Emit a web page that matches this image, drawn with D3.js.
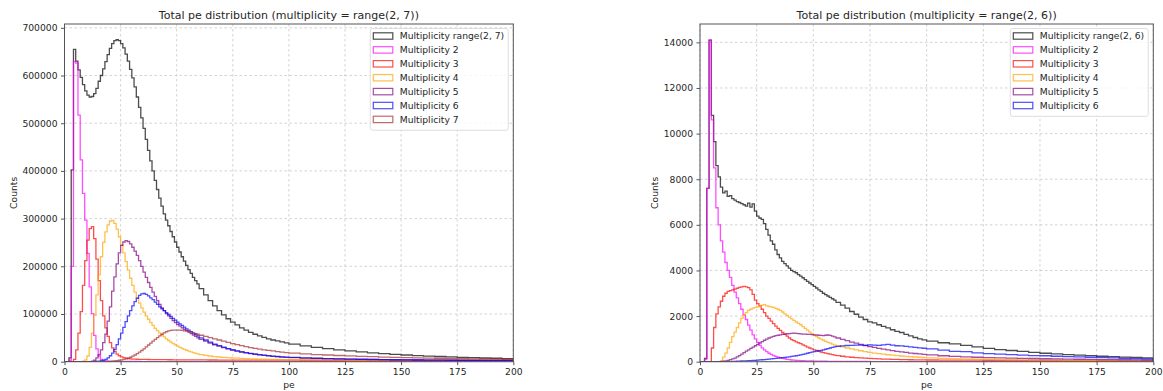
<!DOCTYPE html>
<html>
<head>
<meta charset="utf-8">
<script src="https://cdn.jsdelivr.net/npm/d3@7"></script>
<style>
  body { margin: 0; background: #fff; }
  text { font-family: "DejaVu Sans", sans-serif; fill: #262626; }
</style>
</head>
<body>
<svg id="chart" width="1163" height="391"></svg>
<script>
// bin edges (pe): width 1 up to 60, width 2 up to 100, width 5 up to 200
const binEdges = d3.range(0, 60, 1).concat(d3.range(60, 100, 2), d3.range(100, 201, 5));

const xTicks = [0, 25, 50, 75, 100, 125, 150, 175, 200];
const leftYTicks = [0, 100000, 200000, 300000, 400000, 500000, 600000, 700000];
const rightYTicks = [0, 2000, 4000, 6000, 8000, 10000, 12000, 14000];

const seriesColors = ["black", "magenta", "red", "orange", "purple", "blue", "brown"];
const leftLabels = ["Multiplicity range(2, 7)", "Multiplicity 2", "Multiplicity 3", "Multiplicity 4",
  "Multiplicity 5", "Multiplicity 6", "Multiplicity 7"];
const rightLabels = ["Multiplicity range(2, 6)", "Multiplicity 2", "Multiplicity 3", "Multiplicity 4",
  "Multiplicity 5", "Multiplicity 6"];

// ---- left panel counts, multiplicity = range(2, 7)
const leftTotal = [
  0, 0, 8000, 402000, 655000, 630000, 612000, 596000, 581000, 568000,
  559000, 555000, 556000, 562000, 573000, 588000, 600000, 614000, 629000, 644000,
  657000, 667000, 673000, 675000, 673000, 667000, 658000, 645000, 630000, 613000,
  595000, 576000, 555000, 533000, 511000, 489000, 466000, 443000, 421000, 400000,
  380000, 361000, 343000, 326000, 310000, 297000, 285000, 273000, 262000, 251000,
  240000, 230000, 220000, 211000, 202000, 193000, 185000, 177000, 170000, 163000,
  153000, 140000, 128000, 117000, 107000, 98000, 90000, 83000, 77000, 71000,
  66000, 61500, 57500, 54000, 51000, 48000, 45500, 43500, 41500, 39500,
  37000, 33000, 30000, 27500, 25000, 22500, 20500, 18500, 16800, 15200,
  14000, 12800, 11800, 10900, 10000, 9200, 8500, 7800, 7200, 6600];
const leftMult2 = [
  0, 0, 3000, 200000, 629000, 626000, 517000, 423000, 353000, 297000,
  227000, 157000, 101000, 55000, 27000, 12000, 5000, 2500, 1500, 1000,
  800, 700, 650, 600, 550, 500, 480, 460, 440, 420,
  400, 390, 380, 370, 360, 350, 340, 330, 320, 310,
  300, 290, 280, 270, 260, 250, 245, 240, 235, 230,
  225, 220, 215, 210, 205, 200, 195, 190, 185, 180,
  170, 160, 150, 140, 130, 120, 110, 100, 90, 80,
  75, 70, 65, 60, 55, 50, 45, 40, 35, 30,
  30, 25, 25, 20, 20, 15, 15, 10, 10, 10,
  10, 5, 5, 5, 5, 5, 0, 0, 0, 0];
const leftMult3 = [
  0, 0, 0, 0, 5000, 25000, 60000, 105000, 160000, 212000,
  255000, 279000, 283000, 258000, 215000, 170000, 128000, 96000, 71000, 53000,
  40000, 29000, 21500, 16000, 12500, 10000, 8500, 7500, 6700, 6000,
  5500, 5300, 5100, 5000, 4900, 4800, 4700, 4600, 4500, 4450,
  4400, 4350, 4300, 4250, 4200, 4150, 4100, 4050, 4000, 3950,
  3900, 3880, 3860, 3840, 3820, 3800, 3780, 3760, 3740, 3720,
  3700, 3650, 3600, 3550, 3500, 3450, 3400, 3380, 3360, 3340,
  3320, 3300, 3280, 3260, 3240, 3220, 3200, 3180, 3160, 3140,
  3100, 3050, 3000, 2950, 2900, 2850, 2800, 2750, 2700, 2650,
  2600, 2580, 2560, 2540, 2520, 2500, 2480, 2460, 2440, 2420];
const leftMult4 = [
  0, 0, 0, 0, 0, 0, 0, 0, 1000, 4000,
  12000, 30000, 60000, 97000, 140000, 182000, 220000, 250000, 272000, 287000,
  295000, 296000, 290000, 278000, 262000, 245000, 228000, 210000, 192000, 175000,
  160000, 146000, 134000, 123000, 113000, 104000, 96000, 89000, 82000, 76000,
  70000, 65000, 60000, 56000, 52000, 48000, 44500, 41000, 38000, 35000,
  32500, 30000, 28000, 26000, 24000, 22000, 20500, 19000, 17500, 16300,
  14800, 13200, 11900, 10800, 9900, 9100, 8400, 7800, 7300, 6800,
  6400, 6000, 5700, 5400, 5200, 5000, 4800, 4600, 4500, 4400,
  4200, 4000, 3900, 3800, 3700, 3600, 3500, 3400, 3300, 3200,
  3100, 3000, 2950, 2900, 2850, 2800, 2750, 2700, 2650, 2600];
const leftMult5 = [
  0, 0, 0, 0, 0, 0, 0, 0, 0, 0,
  0, 0, 1000, 3000, 8000, 15000, 25000, 40000, 58000, 85000,
  115000, 148000, 178000, 205000, 228000, 244000, 251000, 254000, 252000, 247000,
  240000, 232000, 223000, 212000, 200000, 188000, 177000, 166000, 156000, 146000,
  137000, 128000, 120000, 113000, 107000, 101000, 96000, 91000, 86000, 82000,
  78000, 74500, 71000, 68000, 65000, 62000, 59000, 56000, 53000, 50000,
  47000, 43000, 39000, 35500, 32500, 29500, 27000, 24500, 22300, 20300,
  18600, 17000, 15600, 14300, 13200, 12200, 11300, 10500, 9800, 9200,
  8700, 7700, 6900, 6300, 5800, 5300, 4900, 4600, 4300, 4000,
  3800, 3600, 3400, 3200, 3100, 3000, 2900, 2800, 2700, 2600];
const leftMult6 = [
  0, 0, 0, 0, 0, 0, 0, 0, 0, 0,
  0, 0, 0, 0, 500, 1000, 2000, 3500, 5000, 8000,
  12500, 18000, 26000, 36000, 48000, 60000, 72000, 84000, 96000, 107000,
  117000, 126000, 133000, 139000, 142000, 143000, 141000, 138000, 134000, 130000,
  125000, 120000, 115000, 111000, 107000, 103000, 99000, 95000, 91000, 87000,
  83000, 79500, 76000, 72500, 69000, 66000, 63000, 60000, 57000, 54000,
  50000, 45500, 41000, 37000, 33500, 30500, 27500, 25000, 22800, 20800,
  19000, 17500, 16000, 14800, 13600, 12600, 11700, 10900, 10200, 9600,
  9000, 8000, 7200, 6500, 6000, 5500, 5100, 4700, 4400, 4100,
  3800, 3600, 3400, 3200, 3000, 2900, 2800, 2700, 2600, 2500];
const leftMult7 = [
  0, 0, 0, 0, 0, 0, 0, 0, 0, 0,
  0, 0, 0, 0, 0, 0, 0, 0, 300, 500,
  800, 1200, 1700, 2300, 3000, 3800, 4800, 6000, 7500, 9300,
  11500, 14000, 17000, 20000, 23500, 27000, 31000, 35000, 39000, 43000,
  47000, 50500, 54000, 57500, 60500, 62800, 64500, 65500, 66000, 66300,
  66300, 66000, 65500, 64800, 64000, 63000, 61800, 60500, 59000, 57500,
  55500, 53000, 50500, 48000, 45500, 43000, 40500, 38000, 35700, 33500,
  31500, 29700, 28000, 26400, 25000, 23700, 22500, 21300, 20200, 19200,
  17800, 16300, 15000, 14000, 13000, 12100, 11300, 10500, 9800, 9200,
  8600, 8100, 7600, 7200, 6800, 6400, 6000, 5700, 5400, 5100];

// ---- right panel counts, multiplicity = range(2, 6)
const rightTotal = [
  0, 0, 150, 7600, 14100, 10800, 9650, 8600, 8100, 7650,
  7400, 7480, 7250, 7280, 7150, 7080, 7020, 6980, 6930, 6880,
  6820, 6950, 6780, 6920, 6600, 6380, 6300, 6240, 6050, 5800,
  5550, 5300, 5150, 4900, 4700, 4550, 4400, 4300, 4200, 4100,
  4000, 3950, 3900, 3820, 3750, 3680, 3600, 3520, 3450, 3380,
  3300, 3230, 3150, 3080, 3000, 2940, 2880, 2820, 2760, 2700,
  2600, 2480, 2350, 2200, 2080, 1950, 1850, 1750, 1700, 1620,
  1550, 1480, 1400, 1330, 1280, 1200, 1130, 1060, 1000, 960,
  900, 830, 780, 720, 650, 580, 530, 490, 450, 410,
  370, 340, 310, 290, 270, 240, 220, 200, 190, 170];
const rightMult2 = [
  0, 0, 100, 7600, 14100, 10600, 8500, 6750, 6000, 5300,
  4800, 4350, 4000, 3700, 3350, 3050, 2800, 2550, 2300, 2050,
  1850, 1600, 1380, 1180, 1000, 850, 720, 610, 520, 440,
  370, 320, 270, 230, 200, 170, 145, 125, 105, 90,
  75, 65, 58, 52, 46, 42, 38, 35, 32, 30,
  28, 26, 24, 22, 20, 19, 18, 17, 16, 15,
  14, 13, 12, 11, 10, 9, 8, 7, 6, 6,
  5, 5, 4, 4, 4, 3, 3, 3, 2, 2,
  2, 2, 2, 1, 1, 1, 1, 1, 1, 1,
  1, 1, 0, 0, 0, 0, 0, 0, 0, 0];
const rightMult3 = [
  0, 0, 0, 0, 0, 600, 1500, 2100, 2400, 2650,
  2870, 3000, 3080, 3120, 3150, 3180, 3220, 3260, 3280, 3300,
  3280, 3250, 3150, 2950, 2700, 2550, 2450, 2300, 2150, 2000,
  1900, 1780, 1670, 1560, 1460, 1370, 1280, 1200, 1120, 1040,
  970, 920, 870, 830, 790, 740, 690, 640, 600, 560,
  520, 490, 455, 425, 400, 375, 350, 330, 310, 290,
  265, 240, 215, 195, 180, 165, 155, 145, 135, 125,
  115, 110, 105, 100, 95, 90, 85, 82, 80, 78,
  75, 72, 70, 68, 66, 64, 62, 60, 58, 56,
  54, 52, 50, 48, 46, 44, 42, 40, 38, 36];
const rightMult4 = [
  0, 0, 0, 0, 0, 0, 0, 0, 0, 50,
  200, 380, 600, 850, 1100, 1300, 1500, 1700, 1900, 2050,
  2150, 2250, 2300, 2350, 2380, 2400, 2420, 2480, 2500, 2450,
  2420, 2400, 2380, 2340, 2300, 2250, 2180, 2100, 2030, 1950,
  1880, 1810, 1740, 1680, 1620, 1540, 1460, 1380, 1300, 1230,
  1160, 1100, 1040, 990, 940, 890, 850, 810, 770, 730,
  700, 650, 600, 560, 520, 480, 445, 410, 380, 355,
  330, 305, 285, 265, 250, 235, 220, 205, 195, 185,
  170, 150, 135, 120, 110, 100, 92, 85, 80, 75,
  70, 66, 62, 58, 55, 52, 50, 48, 46, 44];
const rightMult5 = [
  0, 0, 0, 0, 0, 0, 0, 0, 0, 0,
  20, 40, 60, 90, 120, 160, 210, 270, 330, 400,
  460, 520, 580, 640, 700, 760, 820, 880, 940, 990,
  1040, 1080, 1110, 1140, 1160, 1180, 1195, 1210, 1225, 1235,
  1240, 1250, 1240, 1230, 1220, 1210, 1210, 1200, 1200, 1190,
  1180, 1170, 1160, 1150, 1140, 1160, 1170, 1150, 1120, 1090,
  1040, 980, 920, 860, 810, 760, 710, 665, 625, 585,
  550, 515, 485, 455, 430, 405, 380, 360, 340, 320,
  295, 260, 230, 210, 195, 180, 170, 160, 150, 140,
  130, 122, 115, 108, 100, 95, 90, 85, 80, 75];
const rightMult6 = [
  0, 0, 0, 0, 0, 0, 0, 0, 0, 0,
  0, 0, 0, 0, 10, 15, 20, 25, 30, 35,
  40, 45, 50, 55, 62, 70, 78, 86, 95, 105,
  115, 125, 135, 145, 155, 165, 175, 185, 200, 215,
  230, 245, 260, 280, 300, 320, 345, 370, 395, 420,
  440, 460, 480, 500, 520, 545, 570, 600, 630, 650,
  670, 690, 710, 720, 730, 730, 720, 740, 730, 720,
  740, 760, 730, 700, 690, 670, 650, 630, 610, 590,
  560, 510, 450, 440, 390, 350, 330, 310, 290, 270,
  260, 240, 225, 210, 195, 180, 165, 150, 135, 120];

const panels = [
  {
    title: "Total pe distribution (multiplicity = range(2, 7))",
    left: 64.5, right: 513.3, yMax: 708000, yTicks: leftYTicks,
    series: [leftTotal, leftMult2, leftMult3, leftMult4, leftMult5, leftMult6, leftMult7],
    labels: leftLabels, ylabelX: 13.5
  },
  {
    title: "Total pe distribution (multiplicity = range(2, 6))",
    left: 700, right: 1153.3, yMax: 14805, yTicks: rightYTicks,
    series: [rightTotal, rightMult2, rightMult3, rightMult4, rightMult5, rightMult6],
    labels: rightLabels, ylabelX: 654.5
  }
];

const plotTop = 24, plotBottom = 361.7;
const svg = d3.select("#chart");
svg.append("rect").attr("width", 1163).attr("height", 391).attr("fill", "#fff");

panels.forEach((p, pi) => {
  const x = d3.scaleLinear().domain([0, 200]).range([p.left, p.right]);
  const y = d3.scaleLinear().domain([0, p.yMax]).range([plotBottom, plotTop]);
  const g = svg.append("g");

  const clipId = "clip" + pi;
  svg.append("clipPath").attr("id", clipId)
    .append("rect").attr("x", p.left).attr("y", plotTop)
    .attr("width", p.right - p.left).attr("height", plotBottom - plotTop);

  // grid
  const grid = g.append("g").attr("stroke", "#c8c8c8").attr("stroke-width", 0.8)
    .attr("stroke-dasharray", "2.5,2.5");
  grid.selectAll(".gx").data(xTicks).join("line")
    .attr("x1", d => x(d)).attr("x2", d => x(d)).attr("y1", plotTop).attr("y2", plotBottom);
  grid.selectAll(".gy").data(p.yTicks).join("line")
    .attr("x1", p.left).attr("x2", p.right).attr("y1", d => y(d)).attr("y2", d => y(d));

  // histograms (step outline)
  const line = d3.line().x(d => x(d[0])).y(d => y(d[1]));
  const hg = g.append("g").attr("clip-path", `url(#${clipId})`);
  p.series.forEach((vals, i) => {
    const pts = [[binEdges[0], 0]];
    vals.forEach((v, j) => { pts.push([binEdges[j], v], [binEdges[j + 1], v]); });
    pts.push([binEdges[vals.length], 0]);
    hg.append("path").attr("d", line(pts))
      .attr("fill", "none").attr("stroke", seriesColors[i])
      .attr("stroke-opacity", 0.7).attr("stroke-width", 1.3)
      .attr("stroke-linejoin", "miter");
  });

  // axes
  const xAxis = g.append("g").attr("transform", `translate(0,${plotBottom})`)
    .call(d3.axisBottom(x).tickValues(xTicks).tickSize(3.5).tickPadding(3));
  const yAxis = g.append("g").attr("transform", `translate(${p.left},0)`)
    .call(d3.axisLeft(y).tickValues(p.yTicks).tickSize(3.5).tickPadding(3.5).tickFormat(d3.format("d")));
  [xAxis, yAxis].forEach(a => {
    a.select(".domain").remove();
    a.selectAll(".tick line").attr("stroke", "#444").attr("stroke-width", 0.9);
    a.selectAll(".tick text").attr("font-size", "9.2px").attr("font-family", "DejaVu Sans").attr("fill", "#262626");
  });

  // frame
  g.append("rect").attr("x", p.left).attr("y", plotTop)
    .attr("width", p.right - p.left).attr("height", plotBottom - plotTop)
    .attr("fill", "none").attr("stroke", "#555").attr("stroke-width", 1);

  // labels
  g.append("text").attr("x", (p.left + p.right) / 2).attr("y", 19)
    .attr("text-anchor", "middle").attr("font-size", "11px").text(p.title);
  g.append("text").attr("x", (p.left + p.right) / 2).attr("y", 387.5)
    .attr("text-anchor", "middle").attr("font-size", "9.2px").text("pe");
  g.append("text").attr("transform", `translate(${p.ylabelX},${(plotTop + plotBottom) / 2}) rotate(-90)`)
    .attr("text-anchor", "middle").attr("dominant-baseline", "central")
    .attr("font-size", "9.2px").text("Counts");

  // legend
  const rowH = 13.9;
  const lgW = 138, lgH = p.labels.length * rowH + 4.5;
  const lg = g.append("g").attr("transform", `translate(${p.right - 5 - lgW},${plotTop + 4.5})`);
  lg.append("rect").attr("width", lgW).attr("height", lgH).attr("rx", 2.5)
    .attr("fill", "#fff").attr("fill-opacity", 0.8)
    .attr("stroke", "#d5d5d5").attr("stroke-width", 0.8);
  p.labels.forEach((lab, i) => {
    const cy = 7.5 + i * rowH;
    lg.append("rect").attr("x", 3).attr("y", cy - 3.2).attr("width", 19.5).attr("height", 6.4)
      .attr("fill", "none").attr("stroke", seriesColors[i])
      .attr("stroke-opacity", 0.7).attr("stroke-width", 1.2);
    lg.append("text").attr("x", 29.5).attr("y", cy + 3.3)
      .attr("font-size", "9.2px").text(lab);
  });
});
</script>
</body>
</html>
